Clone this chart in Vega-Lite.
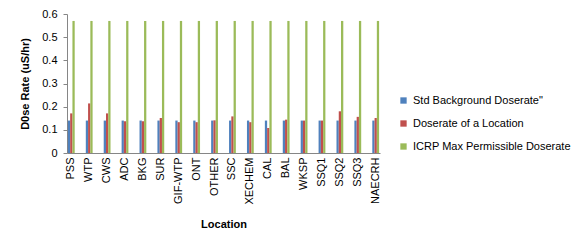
{
  "$schema": "https://vega.github.io/schema/vega-lite/v6.json",
  "width": 313,
  "height": 139,
  "autosize": "none",
  "padding": {"left": 67, "top": 14, "right": 197, "bottom": 94},
  "background": "white",
  "config": {
    "font": "Liberation Sans",
    "view": {"stroke": null},
    "axis": {"domainColor": "#868686", "tickColor": "#868686", "labelColor": "#000000", "titleColor": "#000000", "grid": false, "labelFont": "Liberation Sans", "titleFont": "Liberation Sans"},
    "legend": {"labelFont": "Liberation Sans"}
  },
  "data": {
    "values": [
      {"location": "PSS", "series": "Std Background Doserate\"", "value": 0.14},
      {"location": "PSS", "series": "Doserate of a Location", "value": 0.171},
      {"location": "PSS", "series": "ICRP Max Permissible Doserate", "value": 0.57},
      {"location": "WTP", "series": "Std Background Doserate\"", "value": 0.14},
      {"location": "WTP", "series": "Doserate of a Location", "value": 0.214},
      {"location": "WTP", "series": "ICRP Max Permissible Doserate", "value": 0.57},
      {"location": "CWS", "series": "Std Background Doserate\"", "value": 0.14},
      {"location": "CWS", "series": "Doserate of a Location", "value": 0.171},
      {"location": "CWS", "series": "ICRP Max Permissible Doserate", "value": 0.57},
      {"location": "ADC", "series": "Std Background Doserate\"", "value": 0.14},
      {"location": "ADC", "series": "Doserate of a Location", "value": 0.137},
      {"location": "ADC", "series": "ICRP Max Permissible Doserate", "value": 0.57},
      {"location": "BKG", "series": "Std Background Doserate\"", "value": 0.14},
      {"location": "BKG", "series": "Doserate of a Location", "value": 0.137},
      {"location": "BKG", "series": "ICRP Max Permissible Doserate", "value": 0.57},
      {"location": "SUR", "series": "Std Background Doserate\"", "value": 0.14},
      {"location": "SUR", "series": "Doserate of a Location", "value": 0.151},
      {"location": "SUR", "series": "ICRP Max Permissible Doserate", "value": 0.57},
      {"location": "GIF-WTP", "series": "Std Background Doserate\"", "value": 0.14},
      {"location": "GIF-WTP", "series": "Doserate of a Location", "value": 0.133},
      {"location": "GIF-WTP", "series": "ICRP Max Permissible Doserate", "value": 0.57},
      {"location": "ONT", "series": "Std Background Doserate\"", "value": 0.14},
      {"location": "ONT", "series": "Doserate of a Location", "value": 0.133},
      {"location": "ONT", "series": "ICRP Max Permissible Doserate", "value": 0.57},
      {"location": "OTHER", "series": "Std Background Doserate\"", "value": 0.14},
      {"location": "OTHER", "series": "Doserate of a Location", "value": 0.141},
      {"location": "OTHER", "series": "ICRP Max Permissible Doserate", "value": 0.57},
      {"location": "SSC", "series": "Std Background Doserate\"", "value": 0.14},
      {"location": "SSC", "series": "Doserate of a Location", "value": 0.158},
      {"location": "SSC", "series": "ICRP Max Permissible Doserate", "value": 0.57},
      {"location": "XECHEM", "series": "Std Background Doserate\"", "value": 0.14},
      {"location": "XECHEM", "series": "Doserate of a Location", "value": 0.133},
      {"location": "XECHEM", "series": "ICRP Max Permissible Doserate", "value": 0.57},
      {"location": "CAL", "series": "Std Background Doserate\"", "value": 0.14},
      {"location": "CAL", "series": "Doserate of a Location", "value": 0.108},
      {"location": "CAL", "series": "ICRP Max Permissible Doserate", "value": 0.57},
      {"location": "BAL", "series": "Std Background Doserate\"", "value": 0.14},
      {"location": "BAL", "series": "Doserate of a Location", "value": 0.144},
      {"location": "BAL", "series": "ICRP Max Permissible Doserate", "value": 0.57},
      {"location": "WKSP", "series": "Std Background Doserate\"", "value": 0.14},
      {"location": "WKSP", "series": "Doserate of a Location", "value": 0.14},
      {"location": "WKSP", "series": "ICRP Max Permissible Doserate", "value": 0.57},
      {"location": "SSQ1", "series": "Std Background Doserate\"", "value": 0.14},
      {"location": "SSQ1", "series": "Doserate of a Location", "value": 0.14},
      {"location": "SSQ1", "series": "ICRP Max Permissible Doserate", "value": 0.57},
      {"location": "SSQ2", "series": "Std Background Doserate\"", "value": 0.14},
      {"location": "SSQ2", "series": "Doserate of a Location", "value": 0.18},
      {"location": "SSQ2", "series": "ICRP Max Permissible Doserate", "value": 0.57},
      {"location": "SSQ3", "series": "Std Background Doserate\"", "value": 0.14},
      {"location": "SSQ3", "series": "Doserate of a Location", "value": 0.156},
      {"location": "SSQ3", "series": "ICRP Max Permissible Doserate", "value": 0.57},
      {"location": "NAECRH", "series": "Std Background Doserate\"", "value": 0.14},
      {"location": "NAECRH", "series": "Doserate of a Location", "value": 0.151},
      {"location": "NAECRH", "series": "ICRP Max Permissible Doserate", "value": 0.57}
    ]
  },
  "mark": {"type": "bar"},
  "encoding": {
    "x": {
      "field": "location",
      "type": "nominal",
      "sort": null,
      "scale": {"paddingInner": 0.62, "paddingOuter": 0.05},
      "axis": {"title": "Location", "titleFontSize": 11, "titleFontWeight": "bold", "titlePadding": 14, "labelAngle": -90, "labelFontSize": 11, "labelPadding": 4, "ticks": false}
    },
    "xOffset": {
      "field": "series",
      "type": "nominal",
      "sort": ["Std Background Doserate\"", "Doserate of a Location", "ICRP Max Permissible Doserate"],
      "scale": {"paddingInner": 0, "paddingOuter": 0}
    },
    "y": {
      "field": "value",
      "type": "quantitative",
      "scale": {"domain": [0, 0.6]},
      "axis": {"title": "D0se Rate (uS/hr)", "titleFontSize": 11, "titleFontWeight": "bold", "titlePadding": 11, "values": [0, 0.1, 0.2, 0.3, 0.4, 0.5, 0.6], "format": ".1~f", "labelOverlap": false, "labelFlush": false, "labelFontSize": 11, "tickSize": 4, "labelPadding": 6}
    },
    "color": {
      "field": "series",
      "type": "nominal",
      "sort": ["Std Background Doserate\"", "Doserate of a Location", "ICRP Max Permissible Doserate"],
      "scale": {"range": ["#4F81BD", "#C0504D", "#9BBB59"]},
      "legend": {"title": null, "orient": "none", "legendX": 331, "legendY": 81, "symbolType": "square", "symbolSize": 40, "symbolStrokeWidth": 0, "labelFontSize": 11, "rowPadding": 11, "labelOffset": 4}
    }
  }
}
